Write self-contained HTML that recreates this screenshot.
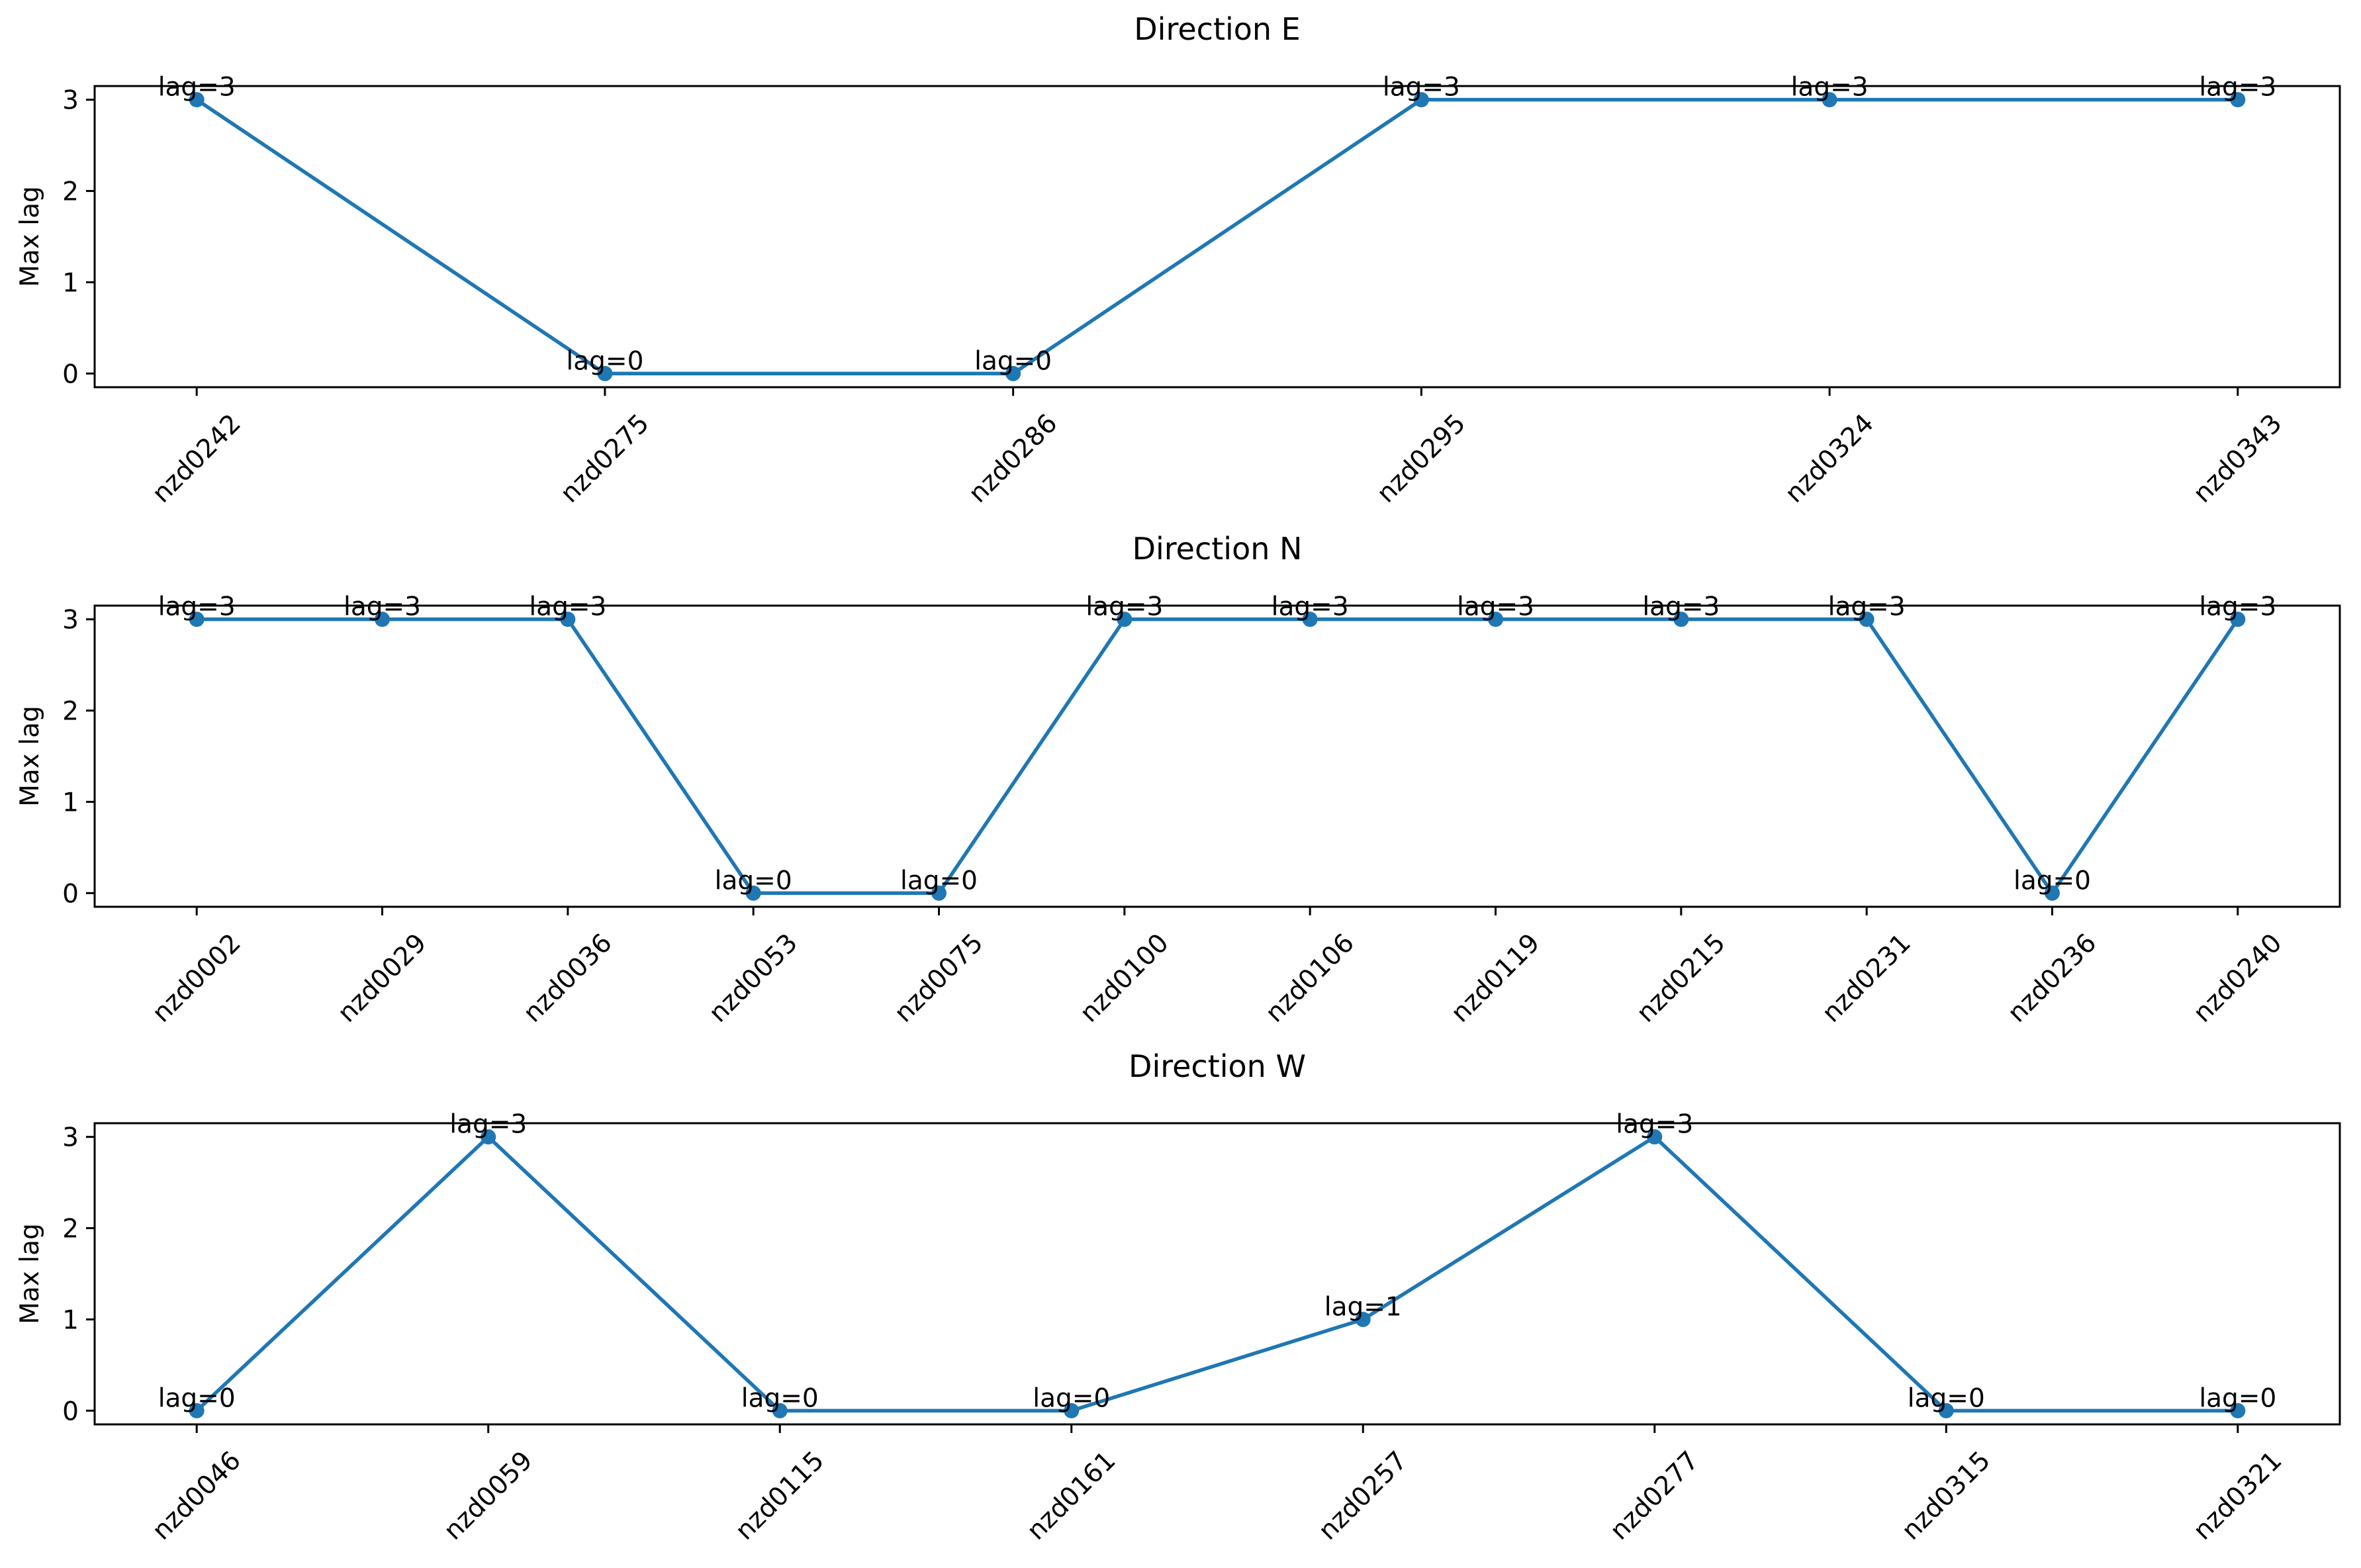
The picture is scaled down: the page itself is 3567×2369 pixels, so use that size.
<!DOCTYPE html>
<html><head><meta charset="utf-8">
<style>
html,body{margin:0;padding:0;background:#fff;}
svg{display:block;font-family:"DejaVu Sans","Liberation Sans",sans-serif;}
</style></head>
<body>
<svg id="chart" width="3567" height="2369" viewBox="0 0 3567 2369" xmlns="http://www.w3.org/2000/svg">
<rect width="3567" height="2369" fill="#fff"/>
</svg>
<script>
const titles = ["Direction E", "Direction N", "Direction W"];
const catsE = ["nzd0242","nzd0275","nzd0286","nzd0295","nzd0324","nzd0343"];
const valsE = [3,0,0,3,3,3];
const catsN = ["nzd0002","nzd0029","nzd0036","nzd0053","nzd0075","nzd0100","nzd0106","nzd0119","nzd0215","nzd0231","nzd0236","nzd0240"];
const valsN = [3,3,3,0,0,3,3,3,3,3,0,3];
const catsW = ["nzd0046","nzd0059","nzd0115","nzd0161","nzd0257","nzd0277","nzd0315","nzd0321"];
const valsW = [0,3,0,0,1,3,0,0];
const yTicks = [0,1,2,3];

const NS = "http://www.w3.org/2000/svg";
const svg = document.getElementById('chart');
function mk(tag, attrs, parent){
  const e = document.createElementNS(NS, tag);
  for (const k in attrs) e.setAttribute(k, attrs[k]);
  (parent||svg).appendChild(e);
  return e;
}
const L = 143, R = 3535, H = 455;
const tops = [130, 915, 1697];
const panels = [[catsE, valsE], [catsN, valsN], [catsW, valsW]];
const col = "#1f77b4";
const FS = 39;

panels.forEach((p, pi) => {
  const cats = p[0], vals = p[1];
  const top = tops[pi], bot = top + H;
  const n = cats.length;
  const xmin = -0.05*(n-1), xmax = (n-1)*1.05;
  const xs = i => L + (i - xmin) / (xmax - xmin) * (R - L);
  const ys = v => bot - (v + 0.15) / 3.3 * H;
  const g = mk('g', {});
  
  

  const t = mk('text', {x: (L+R)/2, y: top - 70, 'font-size': 46, 'text-anchor': 'middle'}, g);
  t.textContent = titles[pi];
  
  

  const yl = mk('text', {x: 0, y: 0, 'font-size': FS, 'text-anchor': 'middle', transform: `translate(58,${(top+bot)/2}) rotate(-90)`}, g);
  yl.textContent = "Max lag";
  
  

  yTicks.forEach(v => {
    const y = ys(v);
    const tk = mk('line', {x1: L-13, x2: L, y1: y, y2: y, stroke: '#000', 'stroke-width': 3}, g);
    
    
    const tl = mk('text', {x: L-24, y: y+14, 'font-size': FS, 'text-anchor': 'end'}, g);
    tl.textContent = v;
    
    
  });

  cats.forEach((c, i) => {
    const x = xs(i);
    const tk = mk('line', {x1: x, x2: x, y1: bot, y2: bot+13, stroke: '#000', 'stroke-width': 3}, g);
    
    
    const tl = mk('text', {x: 0, y: 0, 'font-size': FS, 'text-anchor': 'middle', 'dominant-baseline': 'central', transform: `translate(${x},${bot+108}) rotate(-45)`}, g);
    tl.textContent = c;
    
    
  });

  const pts = vals.map((v, i) => xs(i) + ',' + ys(v)).join(' ');
  const line = mk('polyline', {points: pts, fill: 'none', stroke: col, 'stroke-width': 5.5, 'stroke-linejoin': 'round'}, g);
  
  

  vals.forEach((v, i) => {
    const c = mk('circle', {cx: xs(i), cy: ys(v), r: 11.5, fill: col}, g);
    
    
  });
  vals.forEach((v, i) => {
    const a = mk('text', {x: xs(i), y: ys(v) - 6, 'font-size': FS, 'text-anchor': 'middle'}, g);
    a.textContent = 'lag=' + v;
    
    
  });

  const fr = mk('rect', {x: L, y: top, width: R-L, height: H, fill: 'none', stroke: '#000', 'stroke-width': 3}, g);
  
  
});
</script>
</body></html>
